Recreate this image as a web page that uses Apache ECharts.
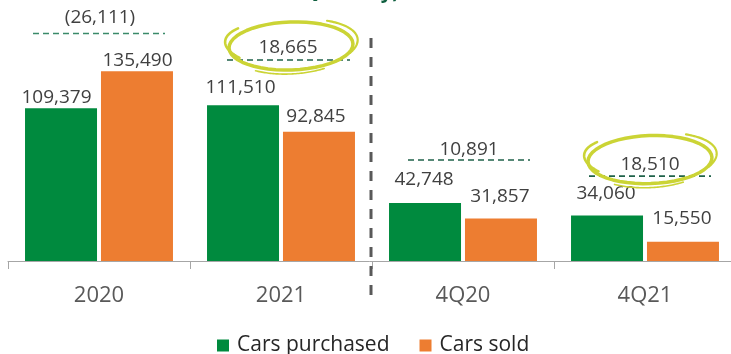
<!DOCTYPE html>
<html>
<head>
<meta charset="utf-8">
<script src="https://cdn.jsdelivr.net/npm/echarts@6/dist/echarts.min.js"></script>
<style>
  html, body { margin: 0; padding: 0; background: #ffffff; }
  #chart { width: 731px; height: 354px; }
</style>
</head>
<body>
<div id="chart"></div>
<script>
// Cars purchased vs. sold, yearly and fourth-quarter totals
const categories = ['2020', '2021', '4Q20', '4Q21'];
const carsPurchased = [109379, 111510, 42748, 34060];
const carsSold = [135490, 92845, 31857, 15550];
// groups whose difference is circled
const highlighted = [false, true, false, true];

// layout tweaks (pixels) for the value labels: [dx, dy]
const purchasedLabelNudge = [[-4.5, 4], [-2.5, -3.3], [-1, -8.5], [-1, -7.8]];
const soldLabelNudge = [[0.5, 3.5], [-3, -0.2], [-1, -7.3], [-1, -8.8]];
// layout of the difference annotation per group (pixels)
const diffLineRise = [37.7, 45.3, 43, 39.3];
const diffLineSpan = [[25, 157], [37, 160], [36, 158], [35, 157]];
const diffTextShift = [[1, -15.5], [7, -12.5], [6, -10.5], [5, -12]];
const ringShift = [[0, 0], [3, -1.5], [0, 0], [0, -4.5]];

const GREEN = '#008a3e';
const ORANGE = '#ed7d31';
const FONT = '"Open Sans", "Liberation Sans", sans-serif';

function fmt(v) {
  const s = Math.abs(v).toLocaleString('en-US');
  return v < 0 ? '(' + s + ')' : s;
}

function seriesData(values, nudges) {
  return values.map((v, i) => ({
    value: v,
    label: { offset: nudges[i] }
  }));
}

const chart = echarts.init(document.getElementById('chart'), null, { renderer: 'canvas' });

const labelStyle = {
  show: true,
  position: 'top',
  distance: 5,
  fontFamily: FONT,
  fontSize: 19,
  color: '#404040',
  formatter: p => fmt(p.value)
};

chart.setOption({
  animation: false,
  backgroundColor: '#ffffff',
  grid: { left: 8, right: -5, top: 0, bottom: 93, containLabel: false, outerBoundsMode: 'none' },
  legend: {
    left: 212,
    top: 330,
    itemWidth: 12,
    itemHeight: 12,
    itemGap: 30,
    icon: 'rect',
    data: ['Cars purchased', 'Cars sold'],
    textStyle: { fontFamily: FONT, fontSize: 21, color: '#262626', padding: [0, 0, 0, 3] }
  },
  xAxis: {
    type: 'category',
    data: categories,
    axisLine: { lineStyle: { color: '#a6a6a6', width: 1 } },
    axisTick: { show: true, length: 8, lineStyle: { color: '#a6a6a6' } },
    axisLabel: { fontFamily: FONT, fontSize: 22, color: '#595959', margin: 24 }
  },
  yAxis: {
    type: 'value',
    min: 2000,
    max: 185500,
    show: false,
    splitLine: { show: false }
  },
  series: [
    {
      name: 'Cars purchased',
      type: 'bar',
      barWidth: 72,
      barGap: '5.5%',
      itemStyle: { color: GREEN },
      label: labelStyle,
      data: seriesData(carsPurchased, purchasedLabelNudge)
    },
    {
      name: 'Cars sold',
      type: 'bar',
      barWidth: 72,
      barGap: '5.5%',
      itemStyle: { color: ORANGE },
      label: labelStyle,
      data: seriesData(carsSold, soldLabelNudge)
    }
  ]
});

// points along an elliptical arc (angles in degrees, y grows downwards)
function arcPoints(cx, cy, rx, ry, a0, a1, rot) {
  const pts = [];
  const r = (rot || 0) * Math.PI / 180;
  const n = 48;
  for (let k = 0; k <= n; k++) {
    const t = (a0 + (a1 - a0) * k / n) * Math.PI / 180;
    const x = rx * Math.cos(t), y = ry * Math.sin(t);
    pts.push([cx + x * Math.cos(r) - y * Math.sin(r), cy + x * Math.sin(r) + y * Math.cos(r)]);
  }
  return pts;
}

function ring(cx, cy) {
  const c = '#cbd435';
  const strokes = [
    { rx: 62, ry: 24, a0: 0, a1: 360, rot: -2, w: 3.5 },
    { rx: 67, ry: 26, a0: -55, a1: 30, rot: -6, w: 2.2 },
    { rx: 66, ry: 24, a0: 140, a1: 215, rot: 4, w: 2.6 },
    { rx: 64, ry: 28, a0: 60, a1: 125, rot: -3, w: 1.6 }
  ];
  return strokes.map(s => ({
    type: 'polyline',
    silent: true,
    shape: { points: arcPoints(cx, cy, s.rx, s.ry, s.a0, s.a1, s.rot) },
    style: { stroke: c, lineWidth: s.w, fill: null, lineCap: 'round', lineJoin: 'round' },
    z: 20
  }));
}

function buildAnnotations() {
  const els = [];
  const centers = categories.map((c, i) => chart.convertToPixel({ xAxisIndex: 0 }, c));
  const band = centers[1] - centers[0];
  const axisY = chart.convertToPixel({ yAxisIndex: 0 }, 2000);

  categories.forEach((c, i) => {
    const diff = carsPurchased[i] - carsSold[i];
    const topY = chart.convertToPixel({ yAxisIndex: 0 }, Math.max(carsPurchased[i], carsSold[i]));
    const lineY = topY - diffLineRise[i];
    const start = centers[i] - band / 2;
    els.push({
      type: 'line',
      silent: true,
      shape: { x1: start + diffLineSpan[i][0], y1: lineY, x2: start + diffLineSpan[i][1], y2: lineY },
      style: { stroke: i === 0 ? '#3a8a6a' : '#1f6249', lineWidth: 1.6, lineDash: [6, 4] },
      z: 10
    });
    const tx = centers[i] + diffTextShift[i][0];
    const ty = lineY + diffTextShift[i][1];
    els.push({
      type: 'text',
      silent: true,
      x: tx,
      y: ty,
      style: {
        text: fmt(diff),
        align: 'center',
        verticalAlign: 'middle',
        fontFamily: FONT,
        fontSize: 19,
        fill: '#404040'
      },
      z: 15
    });
    if (highlighted[i]) {
      ring(tx + ringShift[i][0], ty + ringShift[i][1]).forEach(e => els.push(e));
    }
  });

  // separator between the yearly and the quarterly groups
  const sepX = (centers[1] + centers[2]) / 2 - 1;
  els.push({
    type: 'line',
    silent: true,
    shape: { x1: sepX, y1: 38, x2: sepX, y2: axisY + 39 },
    style: { stroke: '#595959', lineWidth: 3, lineDash: [10, 9] },
    z: 12
  });

  // title line, mostly above the visible area
  els.push({
    type: 'text',
    silent: true,
    x: 303,
    y: 2,
    style: {
      text: 'Quantity)',
      align: 'left',
      verticalAlign: 'bottom',
      fontFamily: FONT,
      fontSize: 20,
      fontWeight: 'bold',
      fill: '#0f5f3f'
    },
    z: 15
  });

  chart.setOption({ graphic: { elements: els } });
}

buildAnnotations();
</script>
</body>
</html>
